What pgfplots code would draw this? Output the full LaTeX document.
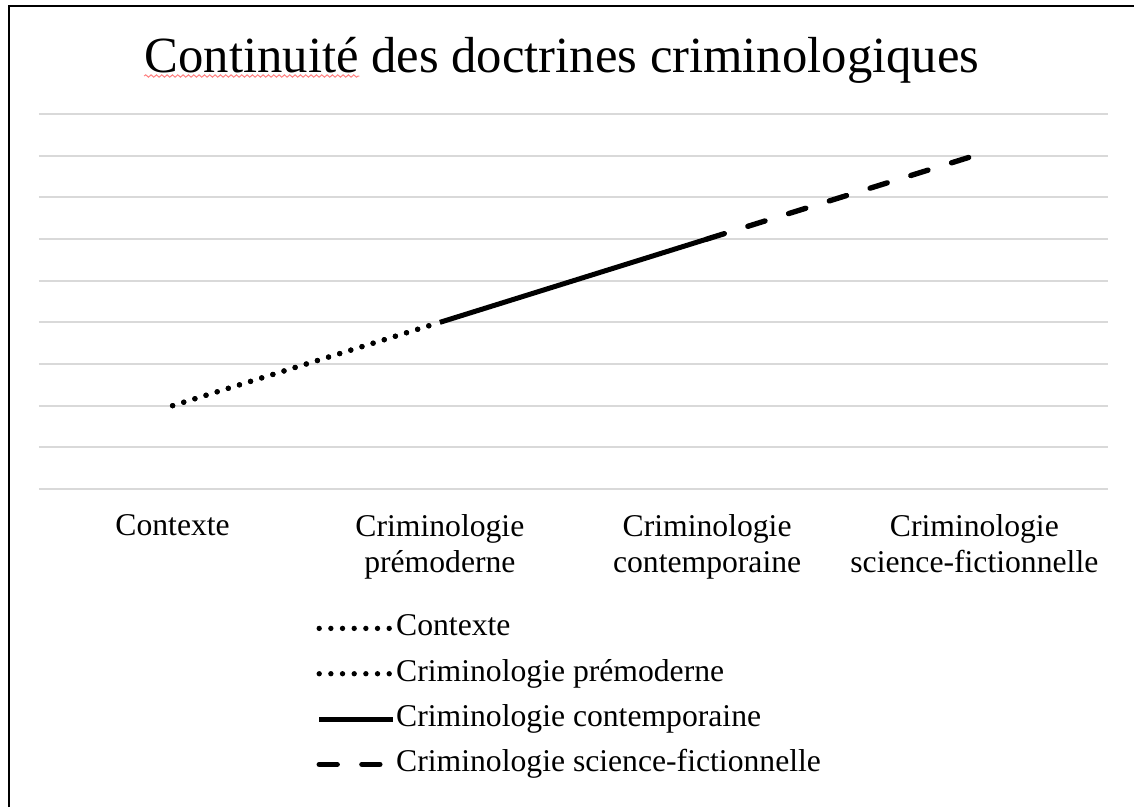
\documentclass[border=0pt]{standalone}
\usepackage{fontspec}
\setmainfont{Liberation Serif}
\usepackage{pgfplots}
\pgfplotsset{compat=1.18}
\usetikzlibrary{decorations.pathmorphing}

\begin{document}
\begin{tikzpicture}
\begin{scope}[x=0.3pt,y=-0.3pt]
\useasboundingbox (0,0) rectangle (1134,807);
\draw[line width=0.6pt] (9,807) -- (9,6) -- (1134,6);
\node[font=\fontsize{15.2}{18}\selectfont, anchor=base, inner sep=0pt] (T) at (562,72) {Continuité des doctrines criminologiques};
\node[font=\fontsize{15.2}{18}\selectfont, anchor=base west, inner sep=0pt] (C) at (T.base west) {\phantom{Continuité}};
\draw[red!50, line width=0.3pt, decorate, decoration={snake, amplitude=0.35pt, segment length=1.6pt}] ([yshift=-1.2pt]C.base west) -- ([yshift=-1.2pt]C.base east);
\coordinate (AX) at (39,489);
\end{scope}
\begin{axis}[
  at={(AX)}, anchor=south west,
  scale only axis, width=320.7pt, height=112.5pt,
  xmin=-0.5, xmax=3.5, ymin=0, ymax=9,
  xtick={0,1,2,3},
  xticklabels={Contexte, Criminologie\\prémoderne, Criminologie\\contemporaine, Criminologie\\science-fictionnelle},
  xticklabel style={align=center, font=\fontsize{9.5}{11}\selectfont, yshift=-4pt},
  ytick={0,1,...,9}, yticklabels={},
  ymajorgrids, grid style={color=black!15, line width=0.6pt},
  axis line style={draw=none},
  major tick length=0pt,
  clip=false,
  legend style={at={(0.259,-0.325)}, anchor=north west, draw=none, fill=none,
    font=\fontsize{9.5}{10.5}\selectfont, row sep=3.5pt, inner sep=0pt,
    nodes={text height=7pt, text depth=2.5pt, inner sep=0.3pt}},
  legend cell align=left,
  legend image code/.code={\draw[#1] (0pt,0pt) -- (22pt,0pt);},
]
\addplot[black, line width=1.6pt, line cap=round, dash pattern=on 0pt off 3.5pt] coordinates {(0,2) (1,4)};
\addlegendentry{Contexte}
\addplot[black, line width=1.6pt, line cap=round, dash pattern=on 0pt off 3.5pt] coordinates {(0,2) (1,4)};
\addlegendentry{Criminologie prémoderne}
\addplot[black, line width=1.5pt] coordinates {(1,4) (2,6)};
\addlegendentry{Criminologie contemporaine}
\addplot[black, line width=1.6pt, line cap=round, dash pattern=on 5.4pt off 7.4pt] coordinates {(2,6) (3,8)};
\addlegendentry{Criminologie science-fictionnelle}
\end{axis}
\end{tikzpicture}
\end{document}
